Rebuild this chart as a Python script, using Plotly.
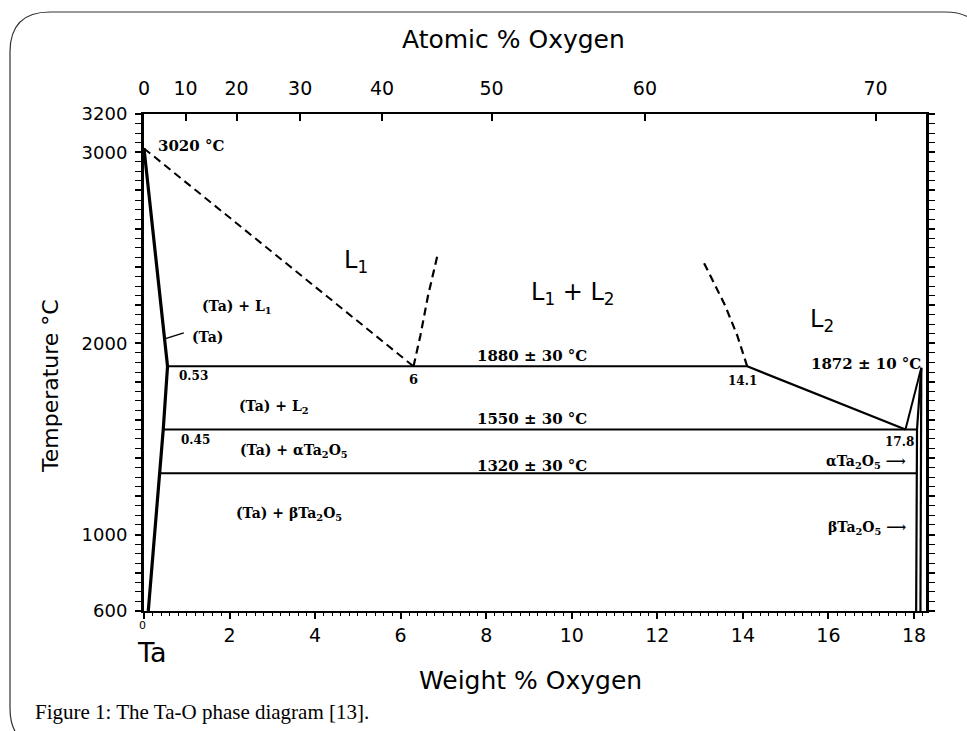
import plotly.graph_objects as go

# ---------------- data (weight % O vs temperature °C) ----------------
solidus_wt = [0.0, 0.55, 0.45, 0.10]
solidus_T = [3020, 1880, 1550, 600]

liquidus_wt = [0.0, 6.3]
liquidus_T = [3020, 1880]

gap_left_wt = [6.3, 6.46, 6.64, 6.87]
gap_left_T = [1880, 2040, 2250, 2470]

gap_right_wt = [14.1, 13.87, 13.58, 13.07]
gap_right_T = [1880, 2040, 2200, 2430]

monotectic_wt = [0.55, 14.1]
monotectic_T = [1880, 1880]

l2_liquidus_wt = [14.1, 17.8]
l2_liquidus_T = [1880, 1550]

eutectic_wt = [0.45, 18.07]
eutectic_T = [1550, 1550]

transition_wt = [0.36, 18.07]
transition_T = [1320, 1320]

oxide_liq_wt = [17.8, 18.17]
oxide_liq_T = [1550, 1872]

oxide_left_wt = [18.17, 18.07, 18.05]
oxide_left_T = [1872, 1550, 600]

oxide_right_wt = [18.17, 18.15]
oxide_right_T = [1872, 600]

leader_wt = [0.5, 0.93]
leader_T = [2025, 2055]

# axes / ticks
wt_ticks = [0, 2, 4, 6, 8, 10, 12, 14, 16, 18]
wt_ticklabels = ["", "2", "4", "6", "8", "10", "12", "14", "16", "18"]
at_ticks = [0, 10, 20, 30, 40, 50, 60, 70]
at_ticklabels = ["0", "10", "20", "30", "40", "50", "60", "70"]
T_ticks = list(range(600, 3201, 200))
T_labelled = {600: "600", 1000: "1000", 2000: "2000", 3000: "3000", 3200: "3200"}
T_ticklabels = [T_labelled.get(t, "") for t in T_ticks]

M_O, M_TA = 15.999, 180.948


def at_to_wt(a):
    return 100.0 * a * M_O / (a * M_O + (100.0 - a) * M_TA)


W, H = 967, 731
ML, MR, MT, MB = 144, 41, 114, 120
PW, PH = W - ML - MR, H - MT - MB


def px(x):
    return (x - ML) / PW


def py(y):
    return (H - MB - y) / PH


fig = go.Figure()


def line(xs, ys, width=2.0, dash=None):
    fig.add_trace(go.Scatter(x=xs, y=ys, mode="lines",
                             line=dict(color="black", width=width, dash=dash),
                             hoverinfo="skip", showlegend=False))


line(solidus_wt, solidus_T, 3.2)
line(liquidus_wt, liquidus_T, 2, "8px,5px")
line(gap_left_wt, gap_left_T, 2.2, "8px,5px")
line(gap_right_wt, gap_right_T, 2.2, "8px,5px")
line(monotectic_wt, monotectic_T, 2)
line(l2_liquidus_wt, l2_liquidus_T, 2.2)
line(eutectic_wt, eutectic_T, 2)
line(transition_wt, transition_T, 2)
line(oxide_liq_wt, oxide_liq_T, 2)
line(oxide_left_wt, oxide_left_T, 2.2)
line(oxide_right_wt, oxide_right_T, 2.2)
line(leader_wt, leader_T, 1.5)

# invisible trace for the top (atomic %) axis
fig.add_trace(go.Scatter(x=[0, 18.28], y=[600, 600], xaxis="x2", mode="markers",
                         marker=dict(opacity=0), hoverinfo="skip", showlegend=False))

SERIF = "DejaVu Serif"
SANS = "DejaVu Sans"
ann = []


def label(text, x, y, size=15, family=SERIF, xanchor="center", **kw):
    ann.append(dict(text=text, x=x, y=y, xref="x", yref="y", showarrow=False,
                    xanchor=xanchor, yanchor="middle",
                    font=dict(family=family, size=size, color="black"), **kw))


label("<b>3020 °C</b>", 0.27, 3035, 15, xanchor="left")
label("L<sub>1</sub>", 4.95, 2430, 24, SANS)
label("<b>(Ta) + L<sub>1</sub></b>", 2.18, 2192, 14)
label("<b>(Ta)</b>", 1.48, 2035, 14)
label("<b>0.53</b>", 1.16, 1830, 12)
label("<b>6</b>", 6.3, 1810, 13)
label("<b>(Ta) + L<sub>2</sub></b>", 3.03, 1668, 14)
label("<b>0.45</b>", 1.2, 1497, 12)
label("<b>(Ta) + αTa<sub>2</sub>O<sub>5</sub></b>", 3.5, 1438, 14)
label("<b>(Ta) + βTa<sub>2</sub>O<sub>5</sub></b>", 3.38, 1108, 14)
label("L<sub>1</sub> + L<sub>2</sub>", 10.03, 2262, 24, SANS)
label("<b>1880 ± 30 °C</b>", 9.07, 1932, 15)
label("<b>14.1</b>", 13.98, 1805, 12)
label("<b>1550 ± 30 °C</b>", 9.07, 1606, 15)
label("<b>1320 ± 30 °C</b>", 9.07, 1356, 15)
label("L<sub>2</sub>", 15.85, 2120, 24, SANS)
label("<b>1872 ± 10 °C</b>", 18.2, 1890, 15, xanchor="right")
label("<b>17.8</b>", 17.67, 1486, 12)
label("<b>αTa<sub>2</sub>O<sub>5</sub> ⟶</b>", 17.85, 1382, 14, xanchor="right")
label("<b>βTa<sub>2</sub>O<sub>5</sub> ⟶</b>", 17.85, 1032, 14, xanchor="right")


def plabel(text, x, y, size, family=SANS, textangle=0, xanchor="center"):
    ann.append(dict(text=text, x=px(x), y=py(y), xref="paper", yref="paper",
                    showarrow=False, xanchor=xanchor, yanchor="middle",
                    textangle=textangle,
                    font=dict(family=family, size=size, color="black")))


plabel("Atomic % Oxygen", 513, 40, 25)
plabel("Weight % Oxygen", 530, 680, 25)
plabel("Temperature °C", 50, 386, 22, textangle=-90)
plabel("Ta", 152, 652, 27)
plabel("0", 142, 625, 11)
plabel("Figure 1: The Ta-O phase diagram [13].", 33, 712, 21,
       family="Liberation Serif", xanchor="left")

# rounded page border
bx0, by0, bx1, by1, r = 10, 12, 985, 748, 40
path = (f"M {px(bx0 + r)} {py(by0)} L {px(bx1 - r)} {py(by0)} "
        f"Q {px(bx1)} {py(by0)} {px(bx1)} {py(by0 + r)} "
        f"L {px(bx1)} {py(by1 - r)} Q {px(bx1)} {py(by1)} {px(bx1 - r)} {py(by1)} "
        f"L {px(bx0 + r)} {py(by1)} Q {px(bx0)} {py(by1)} {px(bx0)} {py(by1 - r)} "
        f"L {px(bx0)} {py(by0 + r)} Q {px(bx0)} {py(by0)} {px(bx0 + r)} {py(by0)} Z")

fig.update_layout(
    width=W, height=H,
    margin=dict(l=ML, r=MR, t=MT, b=MB, pad=0),
    paper_bgcolor="white", plot_bgcolor="white",
    annotations=ann,
    shapes=[dict(type="path", path=path, xref="paper", yref="paper",
                 line=dict(color="#333", width=1.2), layer="above")],
    xaxis=dict(range=[0, 18.28], tickvals=wt_ticks, ticktext=wt_ticklabels,
               ticks="outside", ticklen=6, tickwidth=1.5, tickcolor="black",
               minor=dict(dtick=0.2, ticks="outside", ticklen=3, tickwidth=1, tickcolor="black"),
               showline=True, linewidth=2, linecolor="black", mirror=True,
               showgrid=False, zeroline=False,
               tickfont=dict(family=SANS, size=19, color="black")),
    xaxis2=dict(overlaying="x", side="top", range=[0, 18.28],
                tickvals=[at_to_wt(a) for a in at_ticks], ticktext=at_ticklabels,
                ticks="inside", ticklen=7, tickwidth=2.2, tickcolor="black",
                ticklabelstandoff=14,
                showline=False, showgrid=False, zeroline=False,
                tickfont=dict(family=SANS, size=19, color="black")),
    yaxis=dict(range=[600, 3200], tickvals=T_ticks, ticktext=T_ticklabels,
               ticks="outside", ticklen=6, tickwidth=1.5, tickcolor="black",
               minor=dict(dtick=50, ticks="outside", ticklen=3, tickwidth=1, tickcolor="black"),
               showline=True, linewidth=3, linecolor="black", mirror="allticks",
               showgrid=False, zeroline=False, ticklabelstandoff=4,
               tickfont=dict(family=SANS, size=18, color="black")),
)

fig.write_html("out.html")
